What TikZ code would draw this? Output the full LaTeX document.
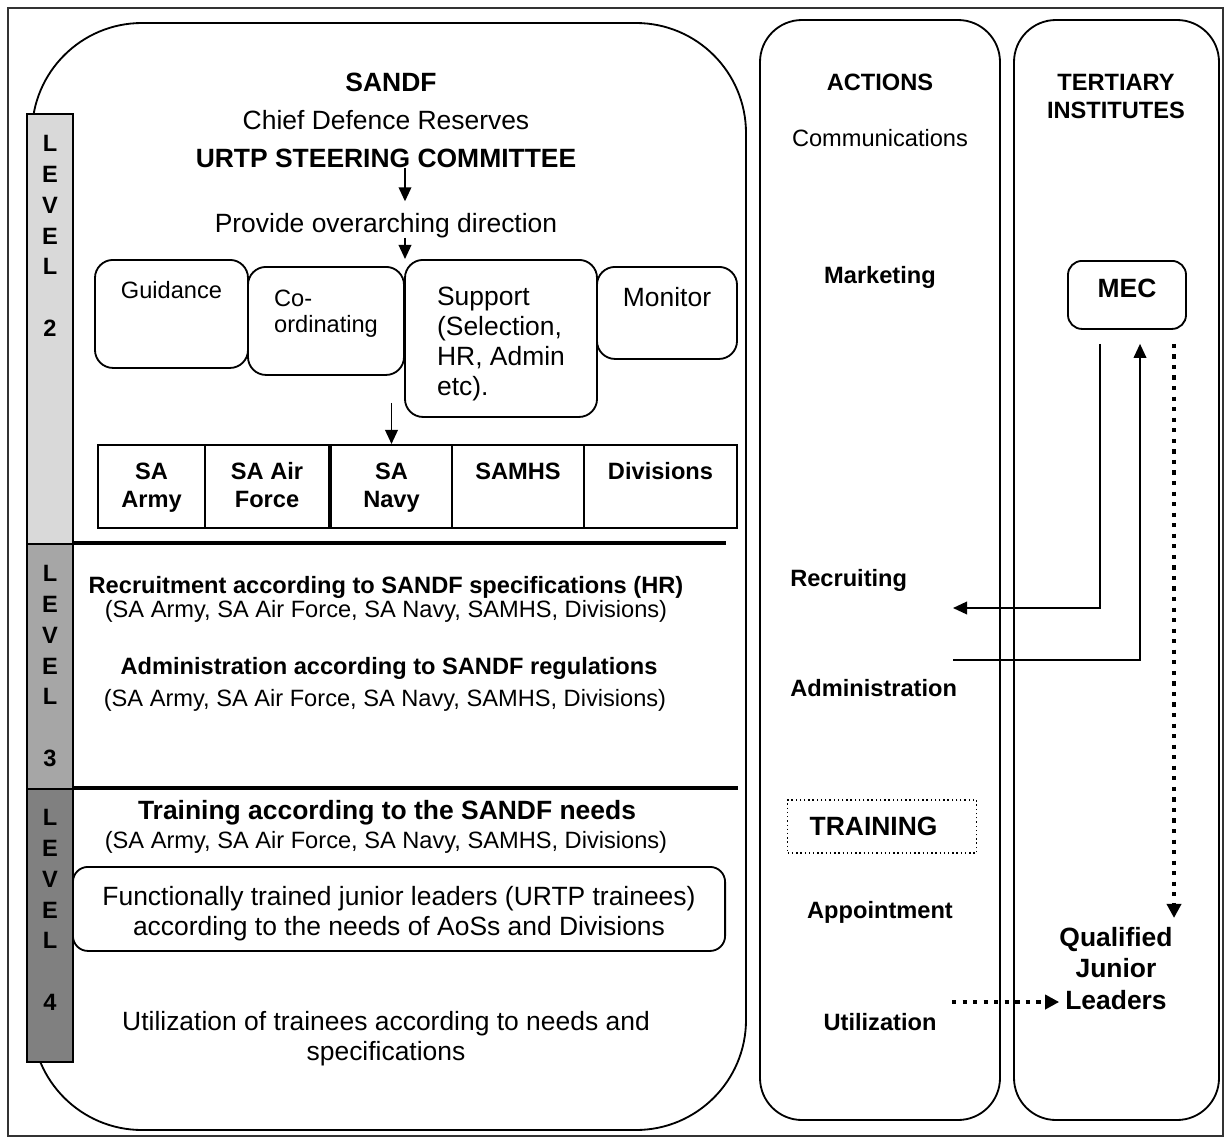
\documentclass[tikz,border=0pt]{standalone}
\usepackage{fontspec}
\setmainfont{Liberation Sans}
\usetikzlibrary{arrows.meta,positioning,calc}

\begin{document}
\begin{tikzpicture}[
    x=0.025cm, y=-0.025cm,
    % Stili base
    outerframe/.style={draw=black!80, line width=0.8pt},
    mainpanel/.style={draw, line width=1.3pt, rounded corners=2.75cm},
    colpanel/.style={draw, line width=1.3pt, rounded corners=1.05cm},
    lvlbar/.style={draw, line width=1.3pt, anchor=north, minimum width=1.15cm, inner xsep=0pt, inner ysep=0pt, align=center, font=\fontsize{16.8}{21.9}\selectfont\bfseries},
    taskbox/.style={draw, line width=1.3pt, rounded corners=0.45cm, anchor=north, inner ysep=0pt, align=left, font=\fontsize{18.8}{21.3}\selectfont},
    cellbox/.style={draw, line width=1.3pt, anchor=north, inner ysep=0pt, align=center, text height=1.5625cm, text depth=0.5125cm, font=\fontsize{16.8}{19.6}\selectfont\bfseries},
    onecell/.style={cellbox, text height=0.8625cm, text depth=1.2125cm},
    mecbox/.style={draw, line width=1.3pt, rounded corners=0.35cm, anchor=north, minimum width=2.95cm, inner ysep=0pt, text height=0.91cm, text depth=0.79cm, font=\fontsize{18.8}{21.3}\selectfont\bfseries},
    dotbox/.style={draw, dotted, line width=1pt, anchor=west, text width=3.625cm, inner xsep=0.55cm, inner ysep=0pt, minimum height=1.325cm, font=\fontsize{18.8}{21.3}\selectfont\bfseries},
    divider/.style={line width=2.6pt},
    % Testo
    headtxt/.style={inner sep=0pt, anchor=base, align=center, font=\fontsize{18.8}{21.3}\selectfont\bfseries},
    bigtxt/.style={inner sep=0pt, anchor=base, align=center, font=\fontsize{18.8}{21.3}\selectfont},
    boldtxt/.style={inner sep=0pt, anchor=base, align=center, font=\fontsize{16.8}{19.9}\selectfont\bfseries},
    normtxt/.style={inner sep=0pt, anchor=base, align=center, font=\fontsize{16.8}{19.6}\selectfont},
    % Frecce
    linkarr/.style={-{Triangle[length=10pt,width=9pt]}, line width=1.2pt},
    dotarr/.style={-{Triangle[length=10pt,width=10pt]}, line width=3pt, dash pattern=on 3pt off 4.5pt}
]

% === CORNICE ===
\useasboundingbox (0,0) rectangle (1230,1138);
\draw[outerframe] (8,8) rectangle (1223,1136);

% === PANNELLI ===
\draw[mainpanel] (32,23) rectangle (746,1130);
\draw[colpanel] (760,20) rectangle (1000,1120);
\draw[colpanel] (1014,20) rectangle (1219,1120);

% === LIVELLI ===
\node[lvlbar, fill=gray!30, text height=5.5625cm, text depth=5.1875cm] (lvl2) at (50,113) {L\\E\\V\\E\\L\\[21.9pt]2};
\node[lvlbar, fill=gray!70, text height=5.5625cm, text depth=0.5625cm] (lvl3) at (50,543) {L\\E\\V\\E\\L\\[21.9pt]3};
\node[lvlbar, fill=gray, text height=5.5375cm, text depth=1.2875cm] (lvl4) at (50,788) {L\\E\\V\\E\\L\\[21.9pt]4};

\draw[divider] (lvl3.north east) -- ++(652,0);
\draw[divider] (lvl4.north east) -- ++(664,0);

% === LIVELLO 2 ===
\node[headtxt] (sandf) at (391,91) {SANDF};
\node[bigtxt] (chief) at (386,129) {Chief Defence Reserves};
\node[headtxt] (urtp) at (386,167) {URTP STEERING COMMITTEE};
\node[bigtxt] (direction) at (386,232) {Provide overarching direction};

% Compiti
\node[taskbox, minimum width=3.825cm, text height=0.9625cm, text depth=1.7375cm, align=center, font=\fontsize{16.8}{19.6}\selectfont] (guidance) at (171.5,259) {Guidance};
\node[taskbox, minimum width=3.9cm, text height=1.65cm, text depth=1.05cm, font=\fontsize{16.8}{18.9}\selectfont] (coordinating) at (326,266) {Co-\\ordinating};
\node[taskbox, minimum width=4.8cm, text height=3.3875cm, text depth=0.5375cm] (support) at (501,259) {Support\\(Selection,\\HR, Admin\\etc).};
\node[taskbox, minimum width=3.5cm, text height=0.9875cm, text depth=1.3125cm, align=center] (monitor) at (667,266) {Monitor};

% Servizi
\node[cellbox, minimum width=2.675cm] (army) at (151.5,444) {SA\\Army};
\node[cellbox, minimum width=3.1cm] (airforce) at (267,444) {SA Air\\Force};
\node[cellbox, minimum width=3.025cm] (navy) at (391.5,444) {SA\\Navy};
\node[onecell, minimum width=3.3cm] (samhs) at (518,444) {SAMHS};
\node[onecell, minimum width=3.825cm] (divisions) at (660.5,444) {Divisions};

% Connessioni
\coordinate (spine) at (405,0);
\draw[linkarr, shorten >=8pt] (urtp.south -| spine) -- (direction.north -| spine);
\draw[linkarr] (direction.south -| spine) -- (support.north -| spine);
\draw[linkarr] ([yshift=1.025cm]navy.north) -- (navy.north);

% === LIVELLO 3 ===
\node[boldtxt] (recruitment) at (386,593.5) {Recruitment according to SANDF specifications (HR)};
\node[normtxt] (rec_aos) at (386,617.5) {(SA Army, SA Air Force, SA Navy, SAMHS, Divisions)};
\node[boldtxt] (administration) at (389,674.5) {Administration according to SANDF regulations};
\node[normtxt] (adm_aos) at (385,706.5) {(SA Army, SA Air Force, SA Navy, SAMHS, Divisions)};

% === LIVELLO 4 ===
\node[headtxt] (training) at (387,819.5) {Training according to the SANDF needs};
\node[normtxt] (trn_aos) at (386,848.5) {(SA Army, SA Air Force, SA Navy, SAMHS, Divisions)};
\node[taskbox, rounded corners=0.375cm, minimum width=16.3cm, text height=1.725cm, text depth=0.375cm, align=center] (juniors) at (399,866) {Functionally trained junior leaders (URTP trainees)\\according to the needs of AoSs and Divisions};
\node[bigtxt] (utilization) at (386,1060) {Utilization of trainees according to needs and\\specifications};

% === AZIONI ===
\node[boldtxt] (actions) at (880,90.5) {ACTIONS};
\node[normtxt] (communications) at (880,146.5) {Communications};
\node[boldtxt] (marketing) at (880,283.5) {Marketing};
\node[boldtxt, anchor=base west] (recruiting) at (790,586.5) {Recruiting};
\node[boldtxt, anchor=base west] (admin_act) at (790,696.5) {Administration};
\node[dotbox] (training_act) at (787,826.5) {TRAINING};
\node[boldtxt] (appointment) at (880,918.5) {Appointment};
\node[boldtxt] (utilization_act) at (880,1030.5) {Utilization};

% === ISTITUTI TERZIARI ===
\node[boldtxt] (tertiary) at (1116,118.5) {TERTIARY\\INSTITUTES};
\node[mecbox] (mec) at (1127,260) {MEC};
\node[headtxt, font=\fontsize{18.8}{22.4}\selectfont\bfseries] (qualified) at (1116,1009.4) {Qualified\\Junior\\Leaders};

% Connessioni
\coordinate (rec_in) at (953,608);
\coordinate (adm_out) at (953,660);
\coordinate (util_out) at (952,1002);
\coordinate (mec_dot) at ([xshift=1.175cm,yshift=-0.35cm]mec.south);
\coordinate (qual_top) at (mec_dot |- qualified.north);
\draw[linkarr] ([xshift=-0.675cm,yshift=-0.35cm]mec.south) |- (rec_in);
\draw[linkarr] (adm_out) -| ([xshift=0.325cm,yshift=-0.35cm]mec.south);
\draw[dotarr] (mec_dot) -- ([yshift=0.225cm]qual_top);
\draw[dotarr] (util_out) -- (util_out -| qualified.west);

\end{tikzpicture}
\end{document}
